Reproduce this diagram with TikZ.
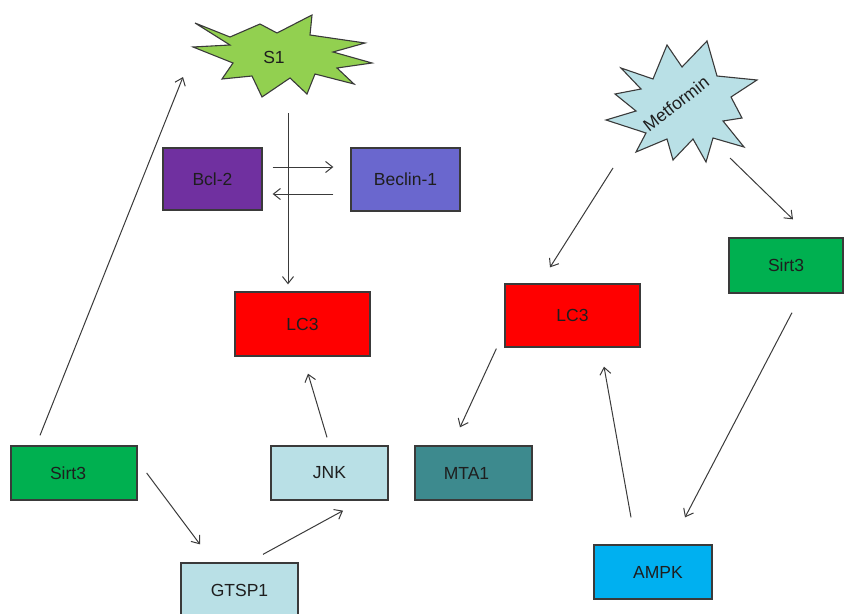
\documentclass[tikz,border=0pt]{standalone}
\usepackage{fontspec}
\setmainfont{Liberation Sans}
\usetikzlibrary{arrows.meta,calc}
\definecolor{sgreen}{HTML}{92D050}
\definecolor{bclc}{HTML}{7030A0}
\definecolor{becc}{HTML}{6A67CE}
\definecolor{sirtc}{HTML}{00B050}
\definecolor{paleblue}{HTML}{B9E0E6}
\definecolor{mtac}{HTML}{3D8A8E}
\definecolor{ampkc}{HTML}{00B0F0}
\definecolor{edgec}{HTML}{3A3A3A}
\definecolor{txtc}{HTML}{1E1E1E}
\begin{document}
\begin{tikzpicture}[x=1pt,y=-1pt,
  box/.style={draw=edgec,line width=1.3pt,rectangle,inner sep=0pt,text=txtc,font=\fontsize{17.5}{19}\selectfont},
  lbl/.style={text=txtc,font=\fontsize{17.5}{19}\selectfont},
  burst/.style={draw=edgec,line width=1.1pt},
  arr/.style={draw=edgec,line width=1pt,-{Straight Barb[length=7pt,width=11pt]}}]
\useasboundingbox (0,0) rectangle (845,613);
\clip (0,0) rectangle (845,613);
% S1 starburst
\draw[burst,fill=sgreen] (195,23) -- (230,37) -- (260,24) -- (277,33) -- (312,15) -- (310,35)
  -- (365,43) -- (333,52) -- (372,63) -- (337,68) -- (354,84) -- (315,74) -- (307,94)
  -- (290,78) -- (262,97) -- (252,76) -- (222,79) -- (233,63) -- (193,47) -- (230,45) -- cycle;
\node[lbl] (s1) at (274,57) {S1};
% Metformin starburst
\draw[burst,fill=paleblue] (707,41) -- (717,76) -- (757,80) -- (731,97) -- (742,118) -- (723,121)
  -- (744,147) -- (713,138) -- (706,162) -- (693,139) -- (673,160) -- (667,139) -- (636,152)
  -- (646,133) -- (606,120) -- (636,111) -- (615,94) -- (641,89) -- (621,68) -- (653,79)
  -- (667,45) -- (682,67) -- cycle;
\node[lbl,rotate=38] (met) at (676,104) {Metformin};
% boxes
\node[box,fill=bclc,minimum width=99pt,minimum height=62pt] (bcl) at (212.5,179) {Bcl-2};
\node[box,fill=becc,minimum width=109pt,minimum height=63pt] (bec) at (405.5,179.5) {Beclin-1};
\node[box,fill=red,minimum width=135pt,minimum height=64pt] (lcl) at (302.5,324) {LC3};
\node[box,fill=sirtc,minimum width=126pt,minimum height=54pt] (sirtl) at (74,473) {\hspace*{-12pt}Sirt3};
\node[box,fill=paleblue,minimum width=117pt,minimum height=54pt] (jnk) at (329.5,473) {JNK};
\node[box,fill=paleblue,minimum width=117pt,minimum height=54pt] (gtsp) at (239.5,590) {GTSP1};
\node[box,fill=mtac,minimum width=117pt,minimum height=54pt] (mta) at (473.5,473) {\hspace*{-14pt}MTA1};
\node[box,fill=red,minimum width=135pt,minimum height=63pt] (lcr) at (572.5,315.5) {LC3};
\node[box,fill=sirtc,minimum width=114pt,minimum height=55pt] (sirtr) at (786,265.5) {Sirt3};
\node[box,fill=ampkc,minimum width=118pt,minimum height=54pt] (ampk) at (653,572) {\hspace*{10pt}AMPK};
% connectors
\draw[arr] ($(sirtl.north)+(-34,-10)$) -- ($(s1)+(-91,20)$);
\draw[arr] ($(s1)+(14,56)$) -- ($(lcl.north)+(-14.5,-7)$);
\draw[arr] ($(bcl.east)+(10,-12)$) -- ($(bec.west)+(-17,-12.5)$);
\draw[arr] ($(bec.west)+(-17,14.5)$) -- ($(bcl.east)+(10,15)$);
\draw[arr] ($(sirtl.east)+(9,0)$) -- ($(gtsp.north)+(-39.5,-18)$);
\draw[arr] ($(gtsp.north)+(23.5,-8)$) -- ($(jnk.south)+(13.5,10)$);
\draw[arr] ($(jnk.north)+(-2.5,-8)$) -- ($(lcl.south)+(5.5,17)$);
\draw[arr] ($(met)+(-63,64)$) -- ($(lcr.north)+(-22.5,-16)$);
\draw[arr] ($(met)+(54,54)$) -- ($(sirtr.north)+(7,-18)$);
\draw[arr] ($(lcr.south west)+(-8,1)$) -- ($(mta.north)+(-13.5,-18)$);
\draw[arr] ($(ampk.north)+(-22,-27)$) -- ($(lcr.south)+(31.5,19)$);
\draw[arr] ($(sirtr.south)+(6,19)$) -- ($(ampk.north)+(32,-27)$);
\end{tikzpicture}
\end{document}
